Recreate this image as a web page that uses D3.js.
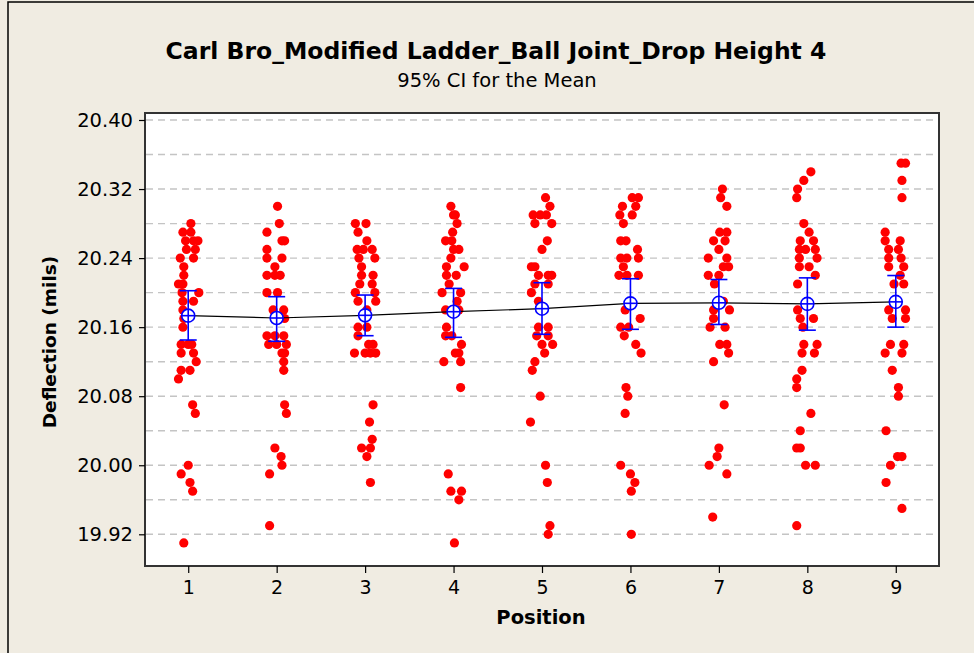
<!DOCTYPE html>
<html>
<head>
<meta charset="utf-8">
<script src="https://cdn.jsdelivr.net/npm/d3@7"></script>
<style>
  html, body { margin: 0; padding: 0; background: #f0ece2; }
  svg { display: block; }
</style>
</head>
<body>
<div id="chart"></div>
<script>
const positions = [1, 2, 3, 4, 5, 6, 7, 8, 9]
const yTicks = [19.92, 20.00, 20.08, 20.16, 20.24, 20.32, 20.40]
const yGrid = [19.92, 19.96, 20.00, 20.04, 20.08, 20.12, 20.16, 20.20, 20.24, 20.28, 20.32, 20.36, 20.40]

// interval plot: mean and 95% CI per position
const means = [20.1733, 20.1706, 20.1737, 20.1779, 20.1814, 20.1876, 20.1882, 20.187, 20.1893]
const ciLow = [20.1451, 20.1436, 20.1501, 20.1482, 20.1517, 20.1575, 20.1631, 20.1565, 20.16]
const ciHigh = [20.2022, 20.1953, 20.1972, 20.2049, 20.2115, 20.2161, 20.2152, 20.2171, 20.2198]

// individual observations: [deflection, jitter (position units)]
const p1 = [[20.28,0.03],[20.27,-0.06],[20.27,0.03],[20.26,-0.03],[20.26,0.06],[20.26,0.11],[20.25,-0.02],[20.25,0.08],[20.24,-0.09],[20.24,0.06],[20.23,-0.05],[20.22,-0.05],[20.21,-0.11],[20.21,-0.06],[20.20,0.12],[20.20,-0.07],[20.19,-0.06],[20.19,0.06],[20.18,-0.06],[20.17,-0.05],[20.16,-0.06],[20.14,-0.08],[20.14,0],[20.14,0.04],[20.13,-0.08],[20.13,0.06],[20.12,0.09],[20.11,-0.08],[20.11,0.02],[20.10,-0.11],[20.07,0.05],[20.06,0.08],[20.00,0],[19.99,-0.08],[19.98,0.02],[19.97,0.05],[19.91,-0.05]]
const p2 = [[20.30,0.01],[20.28,0.03],[20.27,-0.11],[20.26,0.06],[20.26,0.09],[20.25,-0.11],[20.24,-0.11],[20.24,0.06],[20.23,-0.02],[20.22,-0.11],[20.22,-0.02],[20.22,0.04],[20.20,-0.11],[20.20,0.01],[20.18,-0.04],[20.18,0.08],[20.17,0.09],[20.15,-0.11],[20.15,-0.02],[20.15,0.08],[20.14,-0.09],[20.14,0],[20.14,0.11],[20.13,0.06],[20.13,0.09],[20.12,0.08],[20.11,0.08],[20.07,0.09],[20.06,0.11],[20.02,-0.02],[20.01,0.05],[20.00,0.06],[19.99,-0.08],[19.93,-0.08]]
const p3 = [[20.28,-0.11],[20.28,0.01],[20.27,-0.08],[20.26,0.02],[20.25,-0.09],[20.25,-0.02],[20.25,0.08],[20.24,-0.07],[20.24,0.11],[20.23,-0.04],[20.22,-0.04],[20.22,0.09],[20.21,-0.06],[20.21,0.08],[20.20,-0.11],[20.20,0.11],[20.19,-0.08],[20.19,0.12],[20.18,0.02],[20.16,-0.08],[20.16,0.02],[20.15,-0.08],[20.14,0.04],[20.14,0.09],[20.13,-0.12],[20.13,0],[20.13,0.06],[20.13,0.12],[20.07,0.09],[20.05,0.05],[20.03,0.08],[20.02,-0.04],[20.02,0.06],[20.01,0.02],[19.98,0.06]]
const p4 = [[20.30,-0.03],[20.29,0],[20.29,0.02],[20.28,0.04],[20.27,-0.01],[20.26,-0.09],[20.26,-0.02],[20.25,0],[20.25,0.06],[20.24,-0.03],[20.23,-0.08],[20.23,0.12],[20.22,-0.08],[20.22,0.03],[20.21,-0.05],[20.20,-0.13],[20.20,0.08],[20.19,0.04],[20.18,-0.09],[20.18,0.06],[20.16,-0.08],[20.15,-0.09],[20.15,-0.02],[20.14,0.09],[20.13,0.02],[20.13,0.06],[20.12,-0.11],[20.12,0.08],[20.09,0.08],[19.99,-0.06],[19.97,-0.03],[19.97,0.09],[19.96,0.06],[19.91,0.01]]
const p5 = [[20.31,0.04],[20.30,0.09],[20.29,-0.10],[20.29,-0.02],[20.29,0.05],[20.28,-0.08],[20.28,0.11],[20.26,0.06],[20.25,0],[20.23,-0.12],[20.23,-0.08],[20.22,-0.04],[20.22,0.07],[20.22,0.11],[20.21,-0.08],[20.21,0.07],[20.20,-0.12],[20.19,-0.04],[20.18,0],[20.16,-0.04],[20.16,0.07],[20.15,-0.06],[20.15,0.07],[20.14,0],[20.14,0.12],[20.13,0.03],[20.12,-0.08],[20.11,-0.11],[20.08,-0.02],[20.05,-0.13],[20.00,0.04],[19.98,0.06],[19.93,0.09],[19.92,0.07]]
const p6 = [[20.31,0.02],[20.31,0.09],[20.30,-0.09],[20.30,0.06],[20.29,-0.12],[20.29,0.02],[20.28,-0.08],[20.26,-0.11],[20.26,-0.05],[20.25,0.08],[20.24,-0.11],[20.24,-0.04],[20.24,0.09],[20.23,-0.08],[20.22,-0.13],[20.22,-0.04],[20.22,0.09],[20.18,-0.06],[20.17,0.11],[20.16,-0.11],[20.16,-0.02],[20.15,-0.07],[20.14,0.06],[20.13,0.12],[20.09,-0.05],[20.08,-0.03],[20.06,-0.06],[20.00,-0.11],[19.99,0],[19.98,0.05],[19.97,0.01],[19.92,0.01]]
const p7 = [[20.32,0.04],[20.31,0.02],[20.30,0.09],[20.27,0.01],[20.27,0.09],[20.26,-0.06],[20.26,0.07],[20.25,0],[20.24,-0.12],[20.24,0.09],[20.23,0.05],[20.23,0.11],[20.22,-0.12],[20.22,0],[20.21,-0.05],[20.19,0.05],[20.18,-0.06],[20.18,0.12],[20.17,-0.06],[20.16,-0.10],[20.16,0.07],[20.14,0.01],[20.14,0.09],[20.13,0.11],[20.12,-0.06],[20.07,0.06],[20.02,0],[20.01,-0.02],[20.00,-0.11],[19.99,0.09],[19.94,-0.07]]
const p8 = [[20.34,0.04],[20.33,-0.04],[20.32,-0.11],[20.31,-0.12],[20.28,-0.04],[20.27,0.02],[20.26,-0.08],[20.26,0.07],[20.25,-0.09],[20.25,-0.02],[20.25,0.09],[20.24,-0.09],[20.24,0.11],[20.23,-0.09],[20.23,0.02],[20.22,0.09],[20.21,-0.11],[20.18,-0.11],[20.17,-0.08],[20.17,0.07],[20.16,-0.05],[20.14,-0.04],[20.14,0.11],[20.13,-0.06],[20.13,0.08],[20.11,-0.06],[20.10,-0.12],[20.09,-0.12],[20.06,0.04],[20.04,-0.08],[20.02,-0.12],[20.02,-0.08],[20.00,-0.02],[20.00,0.09],[19.93,-0.12]]
const p9 = [[20.35,0.06],[20.35,0.11],[20.33,0.07],[20.31,0.07],[20.27,-0.12],[20.26,-0.12],[20.26,0.05],[20.25,-0.08],[20.25,0.03],[20.24,-0.08],[20.24,0.06],[20.23,-0.08],[20.23,0.09],[20.22,0.05],[20.21,-0.02],[20.21,0.09],[20.18,-0.08],[20.18,0.11],[20.17,-0.04],[20.17,0.11],[20.14,-0.06],[20.14,0.09],[20.13,-0.12],[20.13,0.07],[20.11,-0.04],[20.09,0.03],[20.08,0.03],[20.04,-0.11],[20.01,0.02],[20.01,0.07],[20.00,-0.06],[19.98,-0.11],[19.95,0.07]]
const observations = [p1, p2, p3, p4, p5, p6, p7, p8, p9]

const title = 'Carl Bro_Modified Ladder_Ball Joint_Drop Height 4'
const subtitle = '95% CI for the Mean'
const xLabel = 'Position'
const yLabel = 'Deflection (mils)'

const width = 974
const height = 653
const plot = { left: 145, right: 939, top: 113, bottom: 566 }
const font = 'DejaVu Sans, Verdana, sans-serif'

const svg = d3.select('#chart')
  .append('svg')
  .attr('width', width)
  .attr('height', height)
  .style('font-family', font)

svg.append('rect')
  .attr('width', width)
  .attr('height', height)
  .attr('fill', '#f0ece2')

// outer frame (only top and left edges fall inside the picture)
svg.append('path')
  .attr('d', `M8,${height}V2H${width}`)
  .attr('fill', 'none')
  .attr('stroke', '#000')
  .attr('stroke-width', 1.5)

const x = d3.scaleLinear().domain([0.5, 9.5]).range([144, 940])
const y = d3.scaleLinear().domain([19.92, 20.40]).range([534.3, 120])

svg.append('rect')
  .attr('x', plot.left)
  .attr('y', plot.top)
  .attr('width', plot.right - plot.left)
  .attr('height', plot.bottom - plot.top)
  .attr('fill', '#fff')

const grid = svg.append('g')
grid.selectAll('line')
  .data(yGrid)
  .join('line')
  .attr('x1', plot.left + 1)
  .attr('x2', plot.right - 1)
  .attr('y1', (d) => y(d))
  .attr('y2', (d) => y(d))
  .attr('stroke', '#c4c4c4')
  .attr('stroke-width', 1.4)
  .attr('stroke-dasharray', '7 5')

// jittered observations
const dots = svg.append('g')
observations.forEach((obs, i) => {
  dots.selectAll(null)
    .data(obs)
    .join('circle')
    .attr('cx', (d) => x(positions[i] + d[1]))
    .attr('cy', (d) => y(d[0]))
    .attr('r', 4.6)
    .attr('fill', '#ff0000')
})

// connect the means
svg.append('path')
  .datum(positions)
  .attr('d', d3.line().x((d) => x(d)).y((d, i) => y(means[i])))
  .attr('fill', 'none')
  .attr('stroke', '#000')
  .attr('stroke-width', 1.2)

const blue = '#0000ff'
const ci = svg.append('g')
  .attr('stroke', blue)
  .attr('stroke-width', 1.6)
  .attr('fill', 'none')

positions.forEach((p, i) => {
  const cx = x(p)
  const cap = 8.5
  ci.append('line').attr('x1', cx).attr('x2', cx).attr('y1', y(ciLow[i])).attr('y2', y(ciHigh[i]))
  ci.append('line').attr('x1', cx - cap).attr('x2', cx + cap).attr('y1', y(ciLow[i])).attr('y2', y(ciLow[i]))
  ci.append('line').attr('x1', cx - cap).attr('x2', cx + cap).attr('y1', y(ciHigh[i])).attr('y2', y(ciHigh[i]))
  const cy = y(means[i])
  const r = 6.5
  ci.append('circle').attr('cx', cx).attr('cy', cy).attr('r', r).attr('fill', '#fff')
  ci.append('line').attr('x1', cx - r).attr('x2', cx + r).attr('y1', cy).attr('y2', cy)
  ci.append('line').attr('x1', cx).attr('x2', cx).attr('y1', cy - r).attr('y2', cy + r)
})

// plot frame
svg.append('rect')
  .attr('x', plot.left)
  .attr('y', plot.top)
  .attr('width', plot.right - plot.left)
  .attr('height', plot.bottom - plot.top)
  .attr('fill', 'none')
  .attr('stroke', '#333')
  .attr('stroke-width', 2)

// axes
const yAxis = svg.append('g')
  .attr('transform', `translate(${plot.left},0)`)
  .call(d3.axisLeft(y).tickValues(yTicks).tickFormat(d3.format('.2f')).tickSize(6).tickPadding(6))
yAxis.select('.domain').remove()
yAxis.selectAll('line').attr('stroke', '#000').attr('stroke-width', 1.2)
yAxis.selectAll('text')
  .attr('font-family', font)
  .attr('font-size', 19.5)
  .attr('fill', '#000')

const xAxis = svg.append('g')
  .attr('transform', `translate(0,${plot.bottom})`)
  .call(d3.axisBottom(x).tickValues(positions).tickFormat(d3.format('d')).tickSize(7).tickPadding(8))
xAxis.select('.domain').remove()
xAxis.selectAll('line').attr('stroke', '#000').attr('stroke-width', 1.2)
xAxis.selectAll('text')
  .attr('font-family', font)
  .attr('font-size', 19)
  .attr('fill', '#000')

// titles
svg.append('text')
  .attr('x', 496)
  .attr('y', 59)
  .attr('text-anchor', 'middle')
  .attr('font-size', 23.5)
  .attr('font-weight', 'bold')
  .text(title)

svg.append('text')
  .attr('x', 497)
  .attr('y', 87)
  .attr('text-anchor', 'middle')
  .attr('font-size', 19.5)
  .text(subtitle)

svg.append('text')
  .attr('x', 541)
  .attr('y', 624)
  .attr('text-anchor', 'middle')
  .attr('font-size', 19.5)
  .attr('font-weight', 'bold')
  .text(xLabel)

svg.append('text')
  .attr('transform', 'translate(56,342) rotate(-90)')
  .attr('text-anchor', 'middle')
  .attr('font-size', 18.5)
  .attr('font-weight', 'bold')
  .text(yLabel)
</script>
</body>
</html>
